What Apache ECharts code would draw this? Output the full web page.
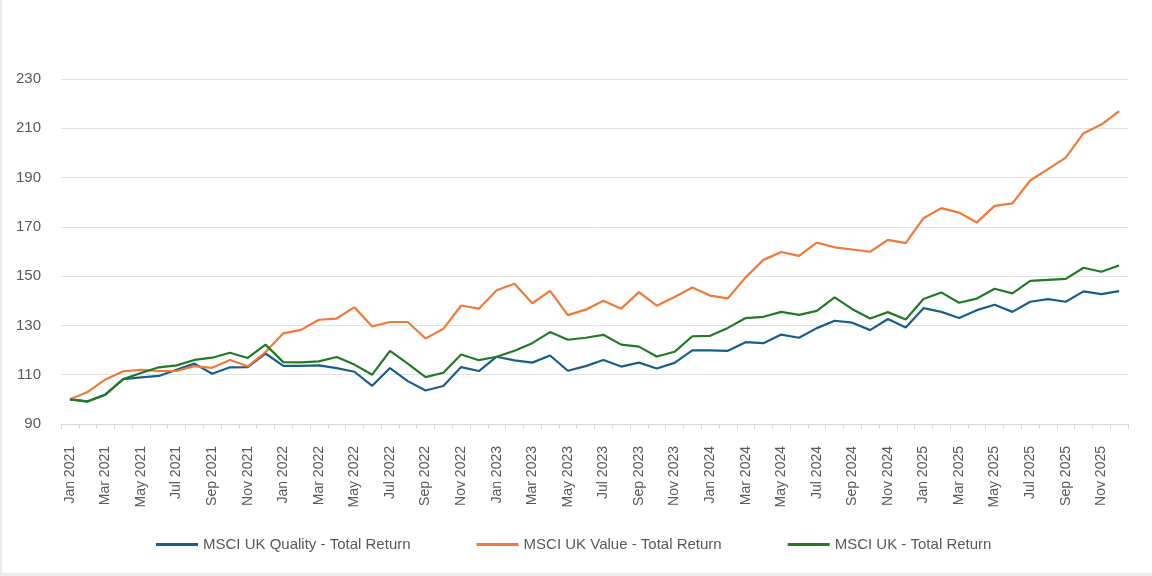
<!DOCTYPE html>
<html>
<head>
<meta charset="utf-8">
<script src="https://cdn.jsdelivr.net/npm/echarts@6/dist/echarts.min.js"></script>
<style>
html,body{margin:0;padding:0;background:#fff;}
#wrap{width:1152px;height:576px;box-sizing:border-box;border-left:2px solid #ececec;border-bottom:3px solid #ececec;}
#chart{width:1150px;height:573px;}
</style>
</head>
<body>
<div id="wrap"><div id="chart"></div></div>
<script>
const categories = [
 "Jan 2021","Feb 2021","Mar 2021","Apr 2021","May 2021","Jun 2021","Jul 2021","Aug 2021","Sep 2021","Oct 2021","Nov 2021","Dec 2021",
 "Jan 2022","Feb 2022","Mar 2022","Apr 2022","May 2022","Jun 2022","Jul 2022","Aug 2022","Sep 2022","Oct 2022","Nov 2022","Dec 2022",
 "Jan 2023","Feb 2023","Mar 2023","Apr 2023","May 2023","Jun 2023","Jul 2023","Aug 2023","Sep 2023","Oct 2023","Nov 2023","Dec 2023",
 "Jan 2024","Feb 2024","Mar 2024","Apr 2024","May 2024","Jun 2024","Jul 2024","Aug 2024","Sep 2024","Oct 2024","Nov 2024","Dec 2024",
 "Jan 2025","Feb 2025","Mar 2025","Apr 2025","May 2025","Jun 2025","Jul 2025","Aug 2025","Sep 2025","Oct 2025","Nov 2025","Dec 2025"
];
const seriesNames = ["MSCI UK Quality - Total Return","MSCI UK Value - Total Return","MSCI UK - Total Return"];
const quality = [
 100, 99.2, 102, 108.2, 108.9, 109.5, 112, 114.5, 110.4, 113, 113.1, 118.6, 113.6, 113.6, 113.8,
 112.7, 111.2, 105.5, 112.7, 107.4, 103.6, 105.4, 113.1, 111.5, 117.3, 115.8, 114.9, 117.8, 111.6, 113.5,
 116, 113.3, 114.9, 112.5, 114.8, 119.9, 119.9, 119.7, 123.2, 122.8, 126.3, 125, 128.9, 131.9, 131.1,
 128.1, 132.6, 129.2, 137, 135.5, 133, 136.2, 138.4, 135.5, 139.6, 140.7, 139.6, 143.8, 142.7, 143.9
];
const value = [
 100, 103, 108.1, 111.4, 112, 111.5, 111.5, 113.5, 112.8, 116, 113.4, 119.2, 126.8, 128.2, 132.3,
 132.8, 137.4, 129.6, 131.4, 131.4, 124.7, 128.6, 138.1, 136.8, 144.3, 146.9, 139, 144, 134.2, 136.4,
 140, 136.8, 143.5, 138, 141.5, 145.4, 142.1, 141, 149.5, 156.6, 159.8, 158.2, 163.6, 161.7, 160.8,
 159.9, 164.7, 163.4, 173.5, 177.6, 175.8, 171.8, 178.5, 179.5, 188.8, 193.4, 198.1, 208, 211.5, 217
];
const msciUK = [
 100, 99.1, 101.9, 108.2, 110.7, 113, 113.8, 116, 116.9, 118.9, 116.8, 122.2, 115.1, 115, 115.4,
 117.2, 114.1, 110, 119.7, 114.5, 109, 110.8, 118.2, 115.9, 117.3, 119.7, 122.8, 127.3, 124.2, 125,
 126.2, 122.2, 121.4, 117.4, 119.3, 125.6, 125.8, 129, 133, 133.5, 135.5, 134.3, 135.9, 141.4, 136.6,
 132.8, 135.4, 132.4, 140.7, 143.4, 139.2, 140.9, 144.9, 143, 148.1, 148.5, 148.9, 153.4, 151.8, 154.3
];
const colors = ["#1B5E8A","#EF7A3A","#237A25"];
const yMin = 90, yMax = 230, yStep = 20;

const chart = echarts.init(document.getElementById('chart'), null, {renderer:'canvas'});
const txt = '#595959';
const font = 'Liberation Sans, Arial, sans-serif';
chart.setOption({
  animation:false,
  color: colors,
  grid:{left:59,right:24,top:79,bottom:149,containLabel:false},
  legend:{
    data: seriesNames,
    left:149, top:532,
    icon:'rect', itemWidth:42, itemHeight:3, itemGap:66,
    textStyle:{color:txt,fontSize:15,fontFamily:font}
  },
  xAxis:{
    type:'category', data:categories, boundaryGap:true,
    axisLine:{lineStyle:{color:'#D9D9D9',width:1}},
    axisTick:{show:true,interval:0,length:5,lineStyle:{color:'#D9D9D9'}},
    axisLabel:{interval:1,rotate:90,margin:22,color:txt,fontSize:14,fontFamily:font},
    splitLine:{show:false}
  },
  yAxis:{
    type:'value', min:yMin, max:yMax, interval:yStep,
    axisLine:{show:false}, axisTick:{show:false},
    axisLabel:{color:txt,fontSize:15,fontFamily:font,margin:20},
    splitLine:{lineStyle:{color:'#E2E2E2',width:1}}
  },
  series:[
    {name:seriesNames[0],type:'line',data:quality,showSymbol:false,symbol:'none',lineStyle:{width:2.2,color:colors[0]}},
    {name:seriesNames[1],type:'line',data:value,showSymbol:false,symbol:'none',lineStyle:{width:2.2,color:colors[1]}},
    {name:seriesNames[2],type:'line',data:msciUK,showSymbol:false,symbol:'none',lineStyle:{width:2.2,color:colors[2]}}
  ]
});
</script>
</body>
</html>
